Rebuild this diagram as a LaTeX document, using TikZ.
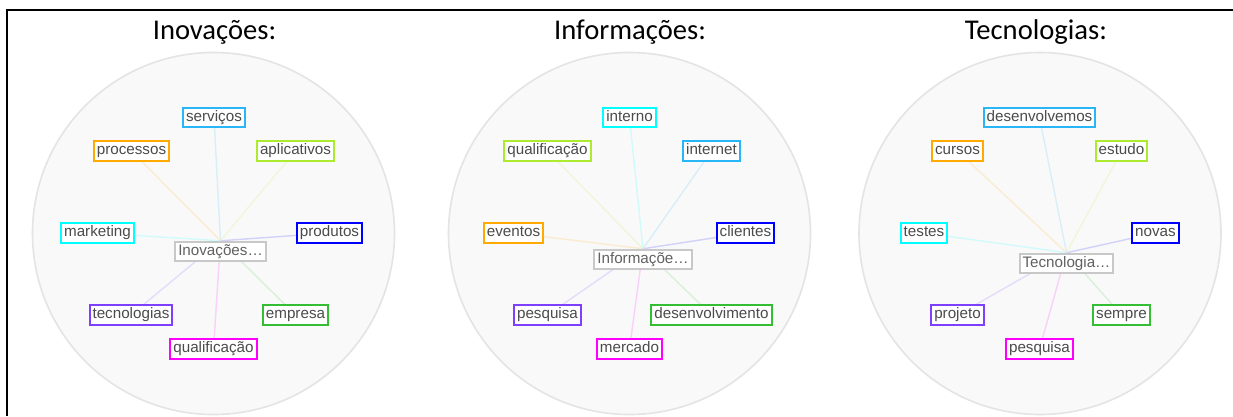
\documentclass[tikz,border=0pt]{standalone}
\usepackage{fontspec}
\setmainfont{Liberation Sans}
\newfontfamily\titlefont{Carlito}
\pgfdeclarelayer{disc}
\pgfdeclarelayer{links}
\pgfsetlayers{disc,links,main}

\definecolor{cSky}{RGB}{41,182,246}
\definecolor{cOrange}{RGB}{255,170,0}
\definecolor{cLime}{RGB}{173,235,47}
\definecolor{cCyan}{RGB}{0,255,255}
\definecolor{cBlue}{RGB}{0,0,255}
\definecolor{cPurple}{RGB}{127,63,255}
\definecolor{cGreen}{RGB}{51,190,51}
\definecolor{cMagenta}{RGB}{255,0,255}
\definecolor{cHubLine}{RGB}{200,200,200}
\definecolor{cDiscFill}{RGB}{249,249,249}
\definecolor{cDiscLine}{RGB}{228,228,228}
\definecolor{cText}{RGB}{75,75,75}

\tikzset{
  term/.style={draw=#1, line width=2pt, fill=white, text=cText,
    font=\fontsize{15.2}{16}\selectfont, inner xsep=3pt, inner ysep=2.5pt,
    text height=11pt, text depth=3.5pt},
  hub/.style={term=cHubLine, text=black!62},
  link/.style={line width=1.4pt, draw=#1!16!cDiscFill},
  disc/.style={fill=cDiscFill, draw=cDiscLine, line width=1.6pt},
  heading/.style={font=\titlefont\fontsize{28.6}{30}\selectfont, anchor=base, inner sep=0pt}
}

\begin{document}
\begin{tikzpicture}[x=1pt,y=-1pt]
\useasboundingbox (0,0) rectangle (1233,416);

% page background and discs
\begin{pgfonlayer}{disc}
  \fill[white] (0,0) rectangle (1233,416);
  \draw[disc] (213.5,233.5) circle (181);
  \draw[disc] (629.5,233.5) circle (181);
  \draw[disc] (1040,233.5) circle (181);
\end{pgfonlayer}

% frame
\draw[line width=2pt] (7,416) -- (7,10) -- (1233,10);

% headings
\node[heading] (t1) at (214.5,39) {Inovações:};
\node[heading] (t2) at (630,39) {Informações:};
\node[heading] (t3) at (1036,39) {Tecnologias:};

% ---- Inovacoes ----
\node[hub] (a0) at (220.5,251.5) {Inovações…};
\node[term=cSky] (a1) at (214,117.5) {serviços};
\node[term=cOrange] (a2) at (131.5,151) {processos};
\node[term=cLime] (a3) at (295.5,151) {aplicativos};
\node[term=cCyan] (a4) at (97.5,233) {marketing};
\node[term=cBlue] (a5) at (329.5,233) {produtos};
\node[term=cPurple] (a6) at (131,315) {tecnologias};
\node[term=cGreen] (a7) at (295.5,315) {empresa};
\node[term=cMagenta] (a8) at (213.5,349) {qualificação};

% ---- Informacoes ----
\node[hub] (b0) at (643,259.5) {Informaçõe…};
\node[term=cCyan] (b1) at (629.5,117.5) {interno};
\node[term=cLime] (b2) at (547.5,151) {qualificação};
\node[term=cSky] (b3) at (711.5,151) {internet};
\node[term=cOrange] (b4) at (513.5,233) {eventos};
\node[term=cBlue] (b5) at (745.5,233) {clientes};
\node[term=cPurple] (b6) at (547.5,315) {pesquisa};
\node[term=cGreen] (b7) at (711.5,315) {desenvolvimento};
\node[term=cMagenta] (b8) at (629.5,349) {mercado};

% ---- Tecnologias ----
\node[hub] (c0) at (1066.5,263.5) {Tecnologia…};
\node[term=cSky] (c1) at (1039.5,117.5) {desenvolvemos};
\node[term=cOrange] (c2) at (957.5,151) {cursos};
\node[term=cLime] (c3) at (1121.5,151) {estudo};
\node[term=cCyan] (c4) at (924,233) {testes};
\node[term=cBlue] (c5) at (1155.5,233) {novas};
\node[term=cPurple] (c6) at (957.5,315) {projeto};
\node[term=cGreen] (c7) at (1121.5,315) {sempre};
\node[term=cMagenta] (c8) at (1039.5,349) {pesquisa};

% spokes
\begin{pgfonlayer}{links}
  \draw[link=cSky]     (a0.north) -- (a1.center);
  \draw[link=cOrange]  (a0.north) -- (a2.center);
  \draw[link=cLime]    (a0.north) -- (a3.center);
  \draw[link=cCyan]    (a0.north) -- (a4.center);
  \draw[link=cBlue]    (a0.north) -- (a5.center);
  \draw[link=cPurple]  (a0.north) -- (a6.center);
  \draw[link=cGreen]   (a0.north) -- (a7.center);
  \draw[link=cMagenta] (a0.north) -- (a8.center);

  \draw[link=cCyan]    (b0.north) -- (b1.center);
  \draw[link=cLime]    (b0.north) -- (b2.center);
  \draw[link=cSky]     (b0.north) -- (b3.center);
  \draw[link=cOrange]  (b0.north) -- (b4.center);
  \draw[link=cBlue]    (b0.north) -- (b5.center);
  \draw[link=cPurple]  (b0.north) -- (b6.center);
  \draw[link=cGreen]   (b0.north) -- (b7.center);
  \draw[link=cMagenta] (b0.north) -- (b8.center);

  \draw[link=cSky]     (c0.north) -- (c1.center);
  \draw[link=cOrange]  (c0.north) -- (c2.center);
  \draw[link=cLime]    (c0.north) -- (c3.center);
  \draw[link=cCyan]    (c0.north) -- (c4.center);
  \draw[link=cBlue]    (c0.north) -- (c5.center);
  \draw[link=cPurple]  (c0.north) -- (c6.center);
  \draw[link=cGreen]   (c0.north) -- (c7.center);
  \draw[link=cMagenta] (c0.north) -- (c8.center);
\end{pgfonlayer}
\end{tikzpicture}
\end{document}
